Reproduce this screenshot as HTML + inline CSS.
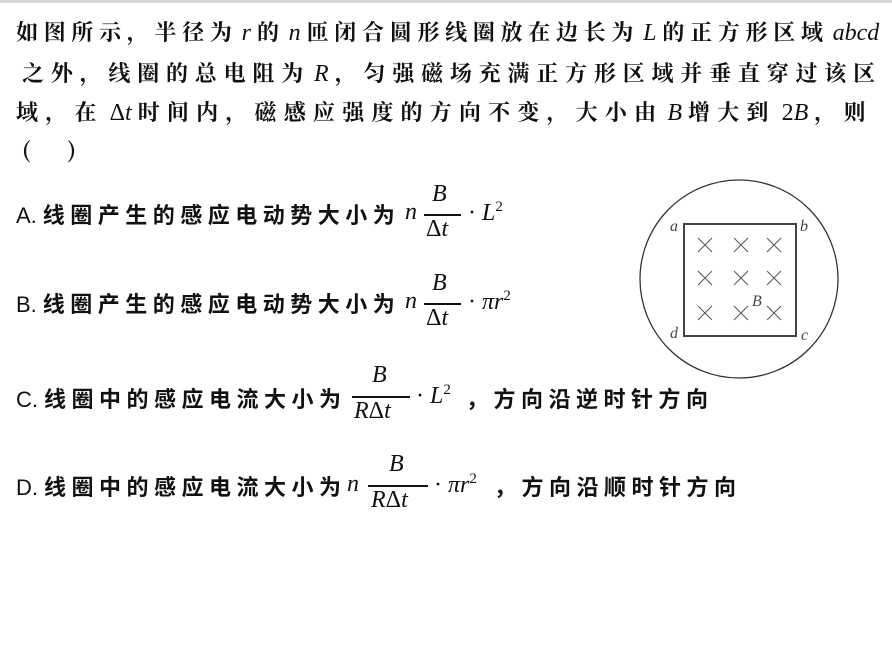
<!DOCTYPE html>
<html><head><meta charset="utf-8">
<style>
html,body{margin:0;padding:0;background:#fff;}
body{width:892px;height:671px;position:relative;overflow:hidden;font-family:"Liberation Sans","Noto Sans CJK SC",sans-serif;color:#111;}
.top{position:absolute;left:0;top:0;width:892px;height:3px;background:#d8d8d8;}
.q{position:absolute;left:16px;font-size:22px;letter-spacing:5px;white-space:nowrap;font-family:"Noto Serif CJK SC","Noto Sans CJK SC",serif;font-weight:bold;}
.m{font-family:"Liberation Serif",serif;font-style:italic;font-weight:normal;letter-spacing:0;font-size:24px;margin:0 6px 0 4px;}
.mu{font-family:"Liberation Serif",serif;font-weight:normal;letter-spacing:0;font-size:24px;}
.o{position:absolute;left:16px;font-size:22px;letter-spacing:5.5px;white-space:nowrap;font-weight:bold;font-family:"Noto Sans CJK SC",sans-serif;}
.o b{font-family:"Liberation Sans",sans-serif;font-weight:normal;letter-spacing:0;margin-right:6px;}
.a{position:absolute;font-family:"Liberation Serif",serif;font-size:24px;white-space:nowrap;}
.i{font-style:italic;}
.bar{position:absolute;height:1.5px;background:#111;}
sup{font-size:15px;}
</style></head><body>
<div class="top"></div>
<div class="q" style="top:16px;letter-spacing:5.7px;">如图所示，半径为<span class="m">r</span>的<span class="m">n</span>匝闭合圆形线圈放在边长为<span class="m">L</span>的正方形区域<span class="m">abcd</span></div>
<div class="q" style="top:57px;left:22px;letter-spacing:6.8px;">之外，线圈的总电阻为<span class="m">R</span>，匀强磁场充满正方形区域并垂直穿过该区</div>
<div class="q" style="top:96px;letter-spacing:7.2px;">域，在<span class="mu" style="margin-left:6px">Δ</span><span class="m" style="margin-left:0">t</span>时间内，磁感应强度的方向不变，大小由<span class="m">B</span>增大到<span class="mu" style="margin-left:6px">2</span><span class="m" style="margin-left:0">B</span>，则</div>
<div class="q" style="top:134px;left:22px;">(&nbsp;&nbsp;&nbsp;)</div>

<!-- A -->
<div class="o" style="top:198px;"><b>A.</b>线圈产生的感应电动势大小为</div>
<div class="a i" style="left:405px;top:199px;">n</div>
<div class="a i" style="left:432px;top:181px;">B</div>
<div class="bar" style="left:424px;top:214px;width:37px;"></div>
<div class="a" style="left:426px;top:216px;">Δ<span class="i">t</span></div>
<div class="a" style="left:468px;top:199px;">· <span class="i">L</span><sup>2</sup></div>

<!-- B -->
<div class="o" style="top:287px;"><b>B.</b>线圈产生的感应电动势大小为</div>
<div class="a i" style="left:405px;top:288px;">n</div>
<div class="a i" style="left:432px;top:270px;">B</div>
<div class="bar" style="left:424px;top:303px;width:37px;"></div>
<div class="a" style="left:426px;top:305px;">Δ<span class="i">t</span></div>
<div class="a" style="left:468px;top:288px;">· <span class="i">πr</span><sup>2</sup></div>

<!-- C -->
<div class="o" style="top:382px;"><b>C.</b>线圈中的感应电流大小为</div>
<div class="a i" style="left:372px;top:362px;">B</div>
<div class="bar" style="left:352px;top:396px;width:58px;"></div>
<div class="a" style="left:354px;top:398px;"><span class="i">R</span>Δ<span class="i">t</span></div>
<div class="a" style="left:416px;top:382px;">· <span class="i">L</span><sup>2</sup></div>
<div class="o" style="top:382px;left:466px;">，方向沿逆时针方向</div>

<!-- D -->
<div class="o" style="top:470px;"><b>D.</b>线圈中的感应电流大小为</div>
<div class="a i" style="left:347px;top:471px;">n</div>
<div class="a i" style="left:389px;top:451px;">B</div>
<div class="bar" style="left:368px;top:485px;width:60px;"></div>
<div class="a" style="left:371px;top:487px;"><span class="i">R</span>Δ<span class="i">t</span></div>
<div class="a" style="left:434px;top:471px;">· <span class="i">πr</span><sup>2</sup></div>
<div class="o" style="top:470px;left:494px;">，方向沿顺时针方向</div>

<svg style="position:absolute;left:0;top:0" width="892" height="671">
<circle cx="739" cy="279" r="99" fill="none" stroke="#333" stroke-width="1.3"/>
<rect x="684" y="224" width="112" height="112" fill="none" stroke="#444" stroke-width="2"/>
<g stroke="#555" stroke-width="1">
<path d="M698 238l14 14M712 238l-14 14M734 238l14 14M748 238l-14 14M767 238l14 14M781 238l-14 14"/>
<path d="M698 271l14 14M712 271l-14 14M734 271l14 14M748 271l-14 14M767 271l14 14M781 271l-14 14"/>
<path d="M698 306l14 14M712 306l-14 14M734 306l14 14M748 306l-14 14M767 306l14 14M781 306l-14 14"/>
</g>
<g font-family="Liberation Serif" font-style="italic" font-size="16" fill="#444">
<text x="670" y="231">a</text><text x="800" y="231">b</text>
<text x="670" y="338">d</text><text x="801" y="340">c</text>
<text x="752" y="306">B</text>
</g>
</svg>
</body></html>
